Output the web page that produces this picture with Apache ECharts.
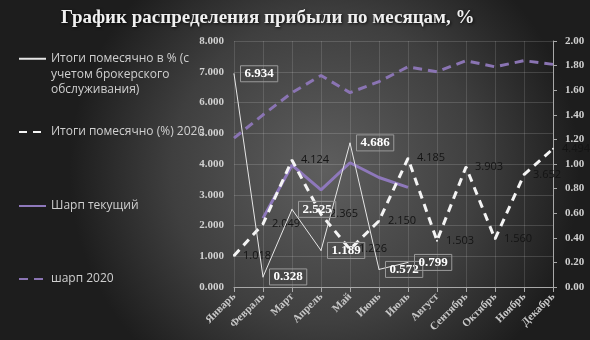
<!DOCTYPE html>
<html><head><meta charset="utf-8">
<script src="https://cdn.jsdelivr.net/npm/echarts@6/dist/echarts.min.js"></script>
<style>html,body{margin:0;padding:0;background:#2a2a2a}#c{width:590px;height:340px}</style>
</head><body><div id="c"></div>
<script>
const months = ['Январь','Февраль','Март','Апрель','Май','Июнь','Июль','Август','Сентябрь','Октябрь','Ноябрь','Декабрь'];
const itogiBrok = [6.934, 0.328, 2.525, 1.189, 4.686, 0.572, 0.799, null, null, null, null, null];
const itogi2020 = [1.018, 2.049, 4.124, 2.365, 1.226, 2.150, 4.185, 1.503, 3.903, 1.560, 3.652, 4.494];
const sharpCur = [null, 0.56, 0.99, 0.79, 1.01, 0.89, 0.81, null, null, null, null, null];
const sharp2020 = [1.21, 1.40, 1.58, 1.72, 1.58, 1.67, 1.79, 1.75, 1.84, 1.79, 1.84, 1.81];
const names = ['Итоги помесячно в % (с учетом брокерского обслуживания)', 'Итоги помесячно (%) 2020', 'Шарп текущий', 'шарп 2020'];
const titleText = 'График распределения прибыли по месяцам, %';

const chart = echarts.init(document.getElementById('c'));
const serif = 'Liberation Serif';
const sans = 'Open Sans';
const legendBase = {left: 13, itemWidth: 27, itemHeight: 12, itemGap: 0,
  itemStyle: {opacity: 0},
  textStyle: {color: '#cfcfcf', fontFamily: sans, fontSize: 12}};
chart.setOption({
  backgroundColor: {type: 'radial', x: 0.55, y: 0.5, r: 0.75,
    colorStops: [{offset: 0, color: '#5e5e5e'}, {offset: 0.6, color: '#3f3f3f'}, {offset: 1, color: '#1d1d1d'}]},
  title: {text: titleText, left: 56, top: 4,
    textStyle: {color: '#f0f0f0', fontFamily: serif, fontWeight: 'bold', fontSize: 19,
      textShadowColor: 'rgba(0,0,0,0.8)', textShadowBlur: 3, textShadowOffsetX: 1, textShadowOffsetY: 1}},
  legend: [
    Object.assign({}, legendBase, {top: 15, data: [names[0]],
      formatter: () => ' \n \nИтоги помесячно в % (с\nучетом брокерского\nобслуживания)',
      textStyle: {color: '#cfcfcf', fontFamily: sans, fontSize: 12, lineHeight: 15.5}}),
    Object.assign({}, legendBase, {top: 121, data: [names[1]]}),
    Object.assign({}, legendBase, {top: 195, data: [names[2]]}),
    Object.assign({}, legendBase, {top: 268, data: [names[3]]})
  ],
  grid: {left: 234, right: 37, top: 41, bottom: 53},
  xAxis: {type: 'category', data: months, boundaryGap: false,
    axisLine: {lineStyle: {color: '#a8a8a8'}},
    axisTick: {show: true, length: 5, lineStyle: {color: '#a8a8a8'}},
    splitLine: {show: true, lineStyle: {color: 'rgba(255,255,255,0.13)'}},
    axisLabel: {rotate: 45, interval: 0, color: '#c8c8c8', fontFamily: serif, fontWeight: 'bold', fontSize: 11, margin: 8}},
  yAxis: [
    {type: 'value', min: 0, max: 8, interval: 1,
      axisLine: {show: false}, axisTick: {show: false},
      splitLine: {lineStyle: {color: 'rgba(255,255,255,0.15)'}},
      axisLabel: {formatter: v => v.toFixed(3), color: '#d0d0d0', fontFamily: serif, fontWeight: 'bold', fontSize: 11, margin: 10}},
    {type: 'value', min: 0, max: 2, interval: 0.2, position: 'right',
      axisLine: {show: true, lineStyle: {color: '#a8a8a8'}},
      axisTick: {show: true, length: 4, lineStyle: {color: '#a8a8a8'}},
      splitLine: {show: false},
      axisLabel: {formatter: v => v.toFixed(2), color: '#d0d0d0', fontFamily: serif, fontWeight: 'bold', fontSize: 11, margin: 12}}
  ],
  series: [
    {name: names[3], type: 'line', yAxisIndex: 1, data: sharp2020, symbol: 'none',
      lineStyle: {color: '#8a74b3', width: 3, type: [9, 6]}, itemStyle: {color: '#8a74b3'}},
    {name: names[2], type: 'line', yAxisIndex: 1, data: sharpCur, symbol: 'none',
      lineStyle: {color: '#8e78bb', width: 3}, itemStyle: {color: '#8e78bb'}},
    {name: names[1], type: 'line', data: itogi2020, symbol: 'circle', symbolSize: 2, showSymbol: true,
      lineStyle: {color: '#f4f4f4', width: 3, type: [8, 6]}, itemStyle: {color: '#f4f4f4'},
      label: {show: true, position: 'right', distance: 8, formatter: p => p.value.toFixed(3),
        color: '#141414', fontFamily: sans, fontSize: 11}},
    {name: names[0], type: 'line', data: itogiBrok, symbol: 'circle', symbolSize: 1, showSymbol: true, z: 5,
      lineStyle: {color: '#e6e6e6', width: 1}, itemStyle: {color: '#e6e6e6'},
      label: {show: true, position: 'right', distance: 6, formatter: p => p.value == null ? '' : p.value.toFixed(3),
        color: '#ffffff', fontFamily: serif, fontWeight: 'bold', fontSize: 13,
        borderColor: '#9a9a9a', borderWidth: 1, padding: [2, 4, 1, 4]}}
  ]
});
</script></body></html>
